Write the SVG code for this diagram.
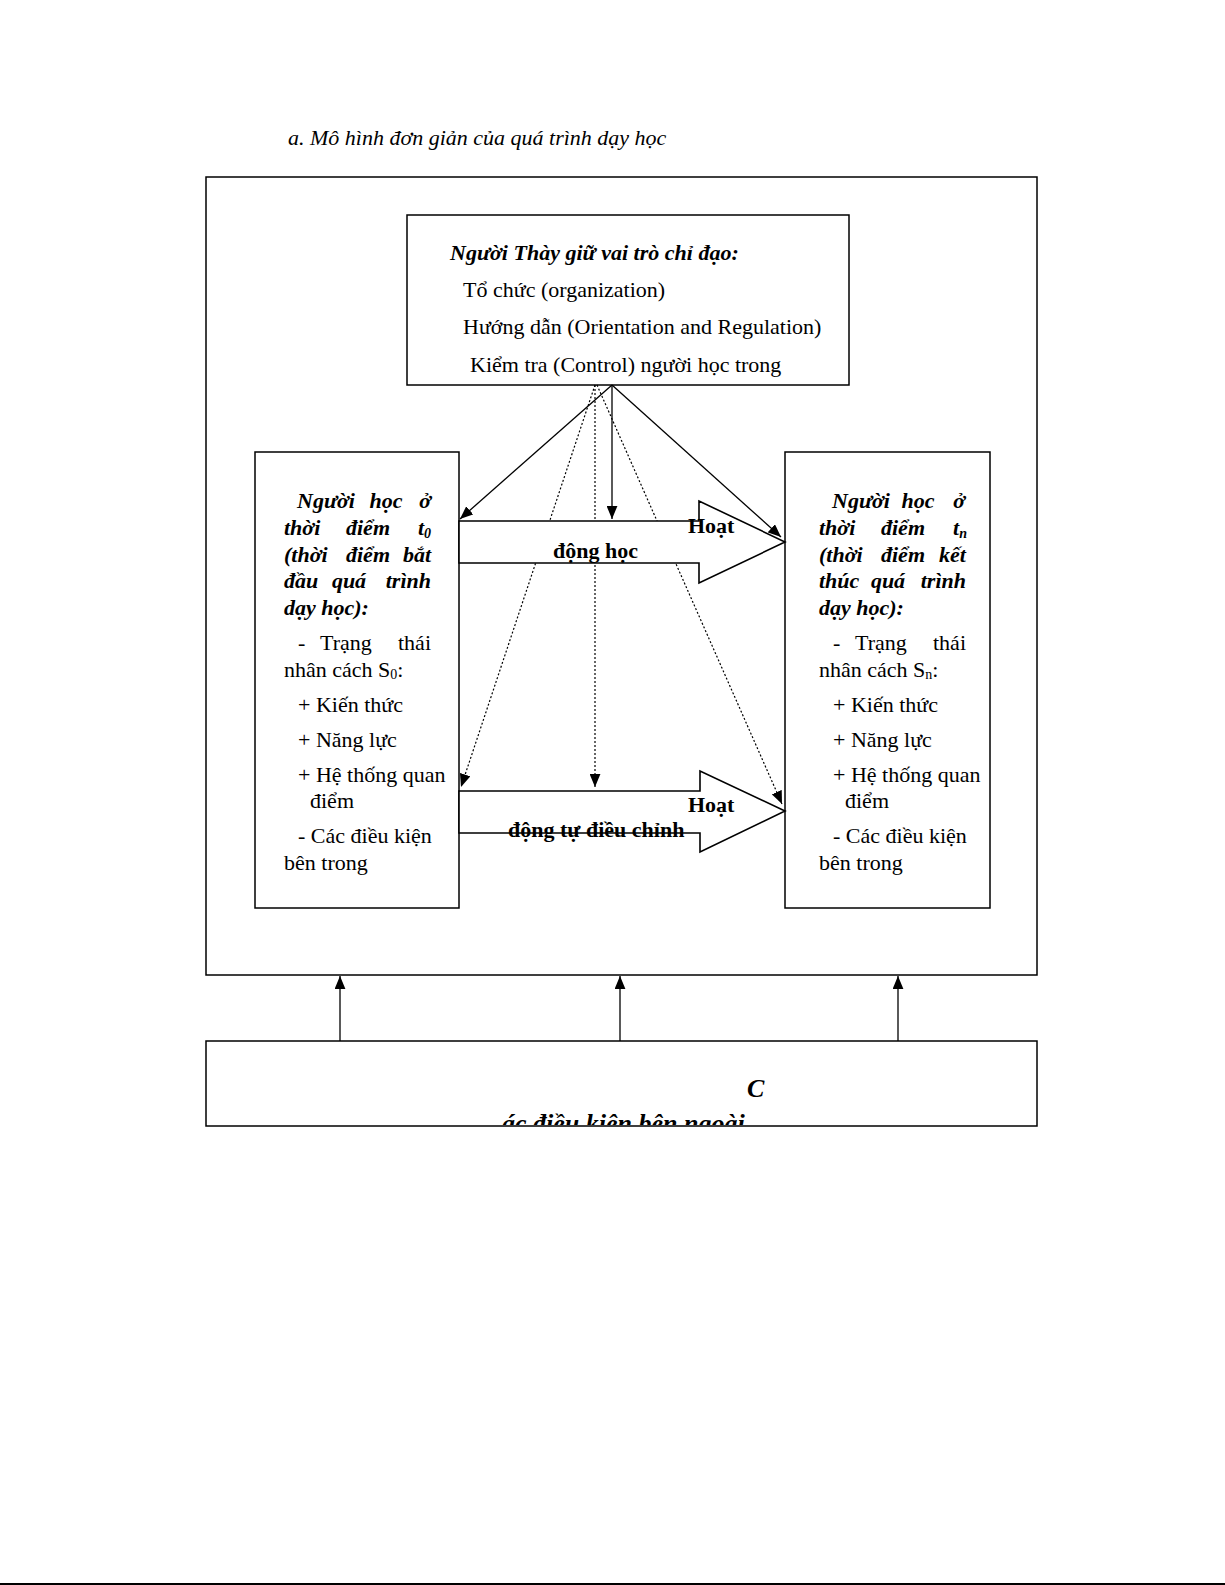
<svg xmlns="http://www.w3.org/2000/svg" width="1225" height="1585" viewBox="0 0 1225 1585">
<style>
text{font-family:"Liberation Serif","Times New Roman",serif;font-size:22px;fill:#000}
.bi{font-weight:bold;font-style:italic}
.b{font-weight:bold}
.i{font-style:italic}
.m{text-anchor:middle}
.e{text-anchor:end}
.big{font-size:26px}
.box{fill:#fff;stroke:#000;stroke-width:1.5}
.ln{stroke:#000;stroke-width:1.3;fill:none}
.dot{stroke:#000;stroke-width:1.2;fill:none;stroke-dasharray:2 2}
.barrow{fill:#fff;stroke:#000;stroke-width:1.6}
.sub{font-size:14px}
</style>
<defs>
<marker id="ah" viewBox="0 0 12 10" markerWidth="13" markerHeight="11" refX="12" refY="5" orient="auto" markerUnits="userSpaceOnUse">
<path d="M0,0 L12,5 L0,10 z" fill="#000"/>
</marker>
<clipPath id="clipBottom"><rect x="206" y="1041" width="831" height="84"/></clipPath>
</defs>
<rect width="1225" height="1585" fill="#fff"/>

<text class="i" x="288" y="145">a. Mô hình đơn giản của quá trình dạy học</text>

<g id="outer"><rect class="box" x="206" y="177" width="831" height="798"/></g>

<g id="teacher">
<rect class="box" x="407" y="215" width="442" height="170"/>
<text class="bi" x="450" y="260">Người Thày giữ vai trò chỉ đạo:</text>
<text x="463" y="297">Tổ chức (organization)</text>
<text x="463" y="334">Hướng dẫn (Orientation and Regulation)</text>
<text x="470" y="372">Kiểm tra (Control) người học trong</text>
</g>

<g id="learner-start">
<rect class="box" x="255" y="452" width="204" height="456"/>
<text class="bi" x="297" y="508">Người</text><text class="bi m" x="386" y="508">học</text><text class="bi e" x="431" y="508">ở</text>
<text class="bi" x="284" y="535">thời</text><text class="bi m" x="368" y="535">điểm</text><text class="bi e" x="431" y="535">t<tspan class="sub" dy="3">0</tspan></text>
<text class="bi" x="284" y="562">(thời</text><text class="bi m" x="368" y="562">điểm</text><text class="bi e" x="431" y="562">bắt</text>
<text class="bi" x="284" y="588">đầu</text><text class="bi m" x="349" y="588">quá</text><text class="bi e" x="431" y="588">trình</text>
<text class="bi" x="284" y="615">dạy học):</text>
<text x="298" y="650">-</text><text x="320" y="650">Trạng</text><text class="e" x="431" y="650">thái</text>
<text x="284" y="677">nhân cách S<tspan class="sub" dy="2">0</tspan><tspan dy="-2">:</tspan></text>
<text x="298" y="712">+ Kiến thức</text>
<text x="298" y="747">+ Năng lực</text>
<text x="298" y="782">+ Hệ thống quan</text>
<text x="310" y="808">điểm</text>
<text x="298" y="843">- Các điều kiện</text>
<text x="284" y="870">bên trong</text>
</g>

<g id="learner-end">
<rect class="box" x="785" y="452" width="205" height="456"/>
<text class="bi" x="832" y="508">Người</text><text class="bi m" x="918" y="508">học</text><text class="bi e" x="965" y="508">ở</text>
<text class="bi" x="819" y="535">thời</text><text class="bi m" x="903" y="535">điểm</text><text class="bi e" x="967" y="535">t<tspan class="sub" dy="3">n</tspan></text>
<text class="bi" x="819" y="562">(thời</text><text class="bi m" x="903" y="562">điểm</text><text class="bi e" x="966" y="562">kết</text>
<text class="bi" x="819" y="588">thúc</text><text class="bi m" x="888" y="588">quá</text><text class="bi e" x="966" y="588">trình</text>
<text class="bi" x="819" y="615">dạy học):</text>
<text x="833" y="650">-</text><text x="855" y="650">Trạng</text><text class="e" x="966" y="650">thái</text>
<text x="819" y="677">nhân cách S<tspan class="sub" dy="2">n</tspan><tspan dy="-2">:</tspan></text>
<text x="833" y="712">+ Kiến thức</text>
<text x="833" y="747">+ Năng lực</text>
<text x="833" y="782">+ Hệ thống quan</text>
<text x="845" y="808">điểm</text>
<text x="833" y="843">- Các điều kiện</text>
<text x="819" y="870">bên trong</text>
</g>

<g id="connectors">
<line class="dot" x1="595" y1="385" x2="461" y2="787" marker-end="url(#ah)"/>
<line class="dot" x1="595" y1="385" x2="595" y2="787" marker-end="url(#ah)"/>
<line class="dot" x1="597" y1="385" x2="782" y2="804" marker-end="url(#ah)"/>
<line class="ln" x1="612" y1="385" x2="460" y2="519" marker-end="url(#ah)"/>
<line class="ln" x1="612" y1="385" x2="612" y2="519" marker-end="url(#ah)"/>
<line class="ln" x1="612" y1="385" x2="781" y2="537" marker-end="url(#ah)"/>
<line class="ln" x1="340" y1="1041" x2="340" y2="976" marker-end="url(#ah)"/>
<line class="ln" x1="620" y1="1041" x2="620" y2="976" marker-end="url(#ah)"/>
<line class="ln" x1="898" y1="1041" x2="898" y2="976" marker-end="url(#ah)"/>
</g>

<g id="activity-learning">
<polygon class="barrow" points="459,521 699,521 699,501 785,542 699,583 699,563 459,563"/>
<text class="b" x="688" y="533">Hoạt</text>
<text class="b" x="553" y="558">động học</text>
</g>

<g id="activity-selfregulation">
<polygon class="barrow" points="459,791 700,791 700,771 785,811 700,852 700,833 459,833"/>
<text class="b" x="688" y="812">Hoạt</text>
<text class="b" x="508" y="837">động tự điều chỉnh</text>
</g>

<g id="external">
<rect class="box" x="206" y="1041" width="831" height="85"/>
<text class="bi big" x="747" y="1097">C</text>
<g clip-path="url(#clipBottom)"><text class="bi big" x="502" y="1132">ác điều kiện bên ngoài</text></g>
</g>

<line x1="0" y1="1584" x2="1225" y2="1584" stroke="#000" stroke-width="2"/>
</svg>
